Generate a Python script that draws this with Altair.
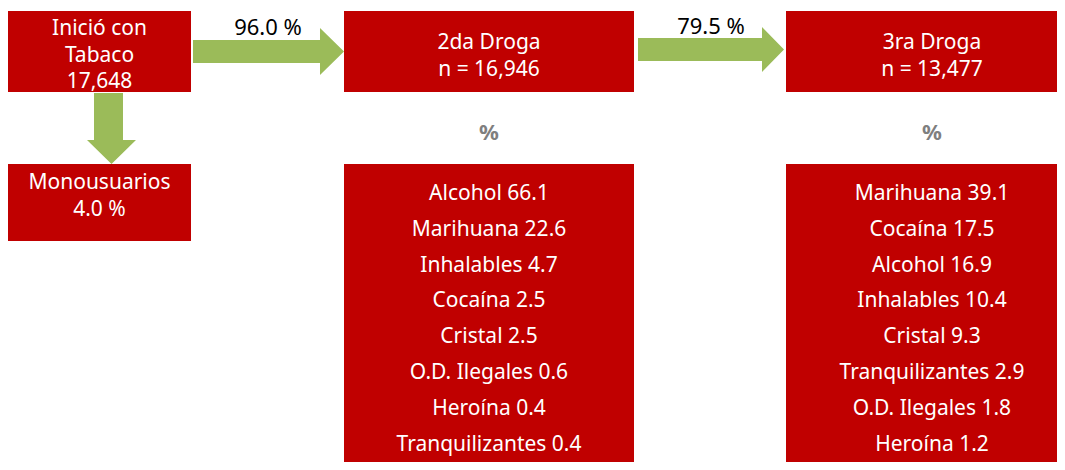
import altair as alt
import pandas as pd

# ---------------- data ----------------
start_lines = ["Inició con", "Tabaco"]
start_n = 17648
mono_label = "Monousuarios"
mono_pct = 4.0
step_pcts = [96.0, 79.5]
stage_titles = ["2da Droga", "3ra Droga"]
stage_ns = [16946, 13477]
second_drugs = ["Alcohol", "Marihuana", "Inhalables", "Cocaína", "Cristal",
                "O.D. Ilegales", "Heroína", "Tranquilizantes"]
second_pcts = [66.1, 22.6, 4.7, 2.5, 2.5, 0.6, 0.4, 0.4]
third_drugs = ["Marihuana", "Cocaína", "Alcohol", "Inhalables", "Cristal",
               "Tranquilizantes", "O.D. Ilegales", "Heroína"]
third_pcts = [39.1, 17.5, 16.9, 10.4, 9.3, 2.9, 1.8, 1.2]

# ---------------- layout (page pixel coordinates) ----------------
RED = "#C00000"
GREEN = "#9BBB59"
GRAY = "#7F7F7F"
FONT = "Noto Sans"
W, H = 1049, 454
PX0, PY0 = 8, 8

col_boxes = [(8, 191), (344, 634), (786, 1078)]
top_y = (11, 92)
list_y = (164, 480)
mono_y = (164, 241)

box_rows = [
    dict(x=col_boxes[0][0], x2=col_boxes[0][1], y=top_y[0], y2=top_y[1]),
    dict(x=col_boxes[1][0], x2=col_boxes[1][1], y=top_y[0], y2=top_y[1]),
    dict(x=col_boxes[2][0], x2=col_boxes[2][1], y=top_y[0], y2=top_y[1]),
    dict(x=col_boxes[0][0], x2=col_boxes[0][1], y=mono_y[0], y2=mono_y[1]),
    dict(x=col_boxes[1][0], x2=col_boxes[1][1], y=list_y[0], y2=list_y[1]),
    dict(x=col_boxes[2][0], x2=col_boxes[2][1], y=list_y[0], y2=list_y[1]),
]
boxes = pd.DataFrame(box_rows)


def cx(i):
    return (col_boxes[i][0] + col_boxes[i][1]) / 2


white_rows = []
white_rows.append(dict(x=cx(0), y=26, t=start_lines[0]))
white_rows.append(dict(x=cx(0), y=53, t=start_lines[1]))
white_rows.append(dict(x=cx(0), y=79, t=f"{start_n:,}"))
white_rows.append(dict(x=cx(0), y=180, t=mono_label))
white_rows.append(dict(x=cx(0), y=207, t=f"{mono_pct:.1f} %"))
for k in range(2):
    white_rows.append(dict(x=cx(k + 1), y=40, t=stage_titles[k]))
    white_rows.append(dict(x=cx(k + 1), y=67, t=f"n = {stage_ns[k]:,}"))
row_top, row_step = 191, 35.8
for i, (d, v) in enumerate(zip(second_drugs, second_pcts)):
    white_rows.append(dict(x=cx(1), y=row_top + i * row_step, t=f"{d} {v:.1f}"))
for i, (d, v) in enumerate(zip(third_drugs, third_pcts)):
    white_rows.append(dict(x=cx(2), y=row_top + i * row_step, t=f"{d} {v:.1f}"))
white_df = pd.DataFrame(white_rows)

arrow_txt = pd.DataFrame([
    dict(x=268, y=26, t=f"{step_pcts[0]:.1f} %"),
    dict(x=711, y=25, t=f"{step_pcts[1]:.1f} %"),
])
pct_txt = pd.DataFrame([
    dict(x=cx(1), y=131, t="%"),
    dict(x=cx(2), y=131, t="%"),
])

xs_ = alt.Scale(domain=[PX0, PX0 + W], nice=False, zero=False)
ys_ = alt.Scale(domain=[PY0, PY0 + H], nice=False, zero=False, reverse=True)


def arrow_layer(pts):
    xs = [p[0] for p in pts]
    ys = [p[1] for p in pts]
    mx = (min(xs) + max(xs)) / 2
    my = (min(ys) + max(ys)) / 2
    half = max(max(xs) - min(xs), max(ys) - min(ys)) / 2
    path = "M" + "L".join(f"{(a - mx) / half:.4f},{(b - my) / half:.4f}" for a, b in pts) + "Z"
    df = pd.DataFrame([dict(x=mx, y=my)])
    return alt.Chart(df).mark_point(
        shape=path, size=(2 * half) ** 2, filled=True, fill=GREEN, opacity=1, strokeWidth=0
    ).encode(x=alt.X("x:Q", scale=xs_), y=alt.Y("y:Q", scale=ys_))


rects = alt.Chart(boxes).mark_rect(color=RED, clip=True).encode(
    x=alt.X("x:Q", scale=xs_, axis=None),
    x2="x2:Q",
    y=alt.Y("y:Q", scale=ys_, axis=None),
    y2="y2:Q",
)

arrow1 = arrow_layer([(193, 40), (320, 40), (320, 28), (344, 51.5), (320, 75), (320, 63), (193, 63)])
arrow2 = arrow_layer([(638, 38), (762, 38), (762, 27), (784, 49.5), (762, 72), (762, 61), (638, 61)])
arrow3 = arrow_layer([(94, 93), (123, 93), (123, 140), (136, 140), (111.5, 164), (87, 140), (94, 140)])

white_text = alt.Chart(white_df).mark_text(
    color="white", font=FONT, fontSize=21, align="center", baseline="middle", dy=3, clip=True
).encode(x=alt.X("x:Q", scale=xs_), y=alt.Y("y:Q", scale=ys_), text="t:N")

black_text = alt.Chart(arrow_txt).mark_text(
    color="black", font=FONT, fontSize=22, align="center", baseline="middle", dy=2
).encode(x=alt.X("x:Q", scale=xs_), y=alt.Y("y:Q", scale=ys_), text="t:N")

gray_text = alt.Chart(pct_txt).mark_text(
    color=GRAY, font=FONT, fontSize=22, fontWeight="bold", align="center", baseline="middle", dy=2
).encode(x=alt.X("x:Q", scale=xs_), y=alt.Y("y:Q", scale=ys_), text="t:N")

chart = alt.layer(rects, arrow1, arrow2, arrow3, white_text, black_text, gray_text).properties(
    width=W, height=H, padding=0, autosize=alt.AutoSizeParams(type="none")
).configure_view(strokeWidth=0)

chart.save("out.html", embed_options={"renderer": "svg", "actions": False})
